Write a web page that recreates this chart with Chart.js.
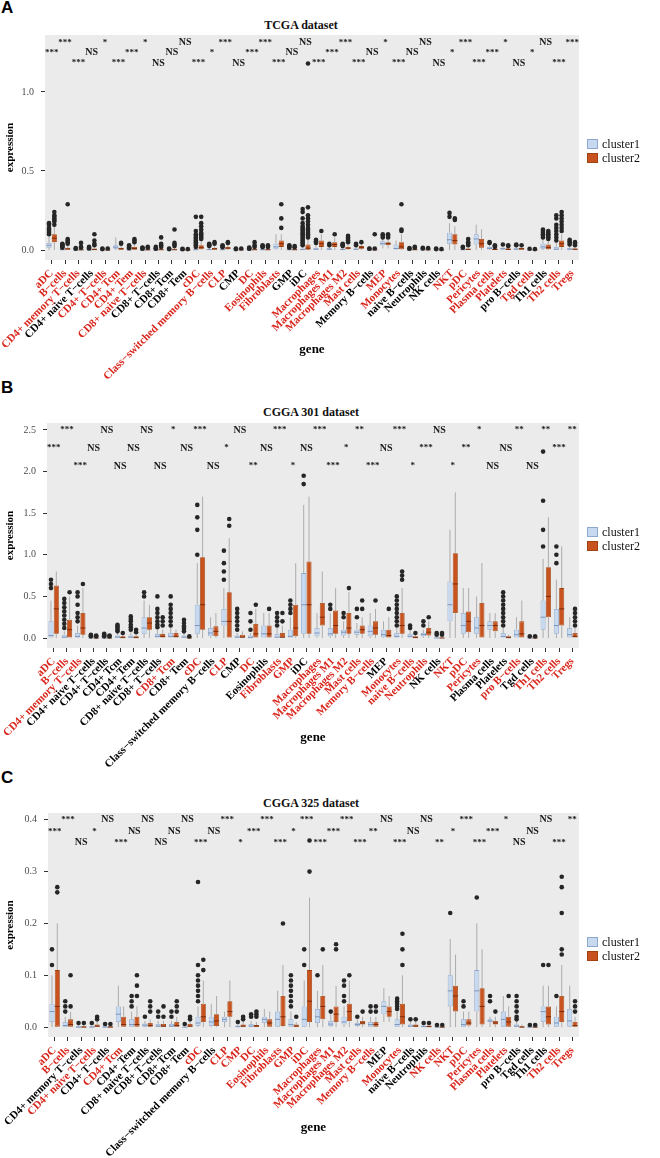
<!DOCTYPE html>
<html><head><meta charset="utf-8">
<script src="https://cdn.jsdelivr.net/npm/chart.js@4.4.1/dist/chart.umd.min.js"></script>
<style>
body{margin:0;background:#fff;width:660px;height:1158px;overflow:hidden;position:relative;font-family:'Liberation Serif',serif}
canvas{position:absolute;left:0}
.letter{position:absolute;left:1px;font:bold 17px 'Liberation Sans',Arial,sans-serif;color:#000}
.ttl{position:absolute;font:bold 12px 'Liberation Serif',serif;transform:translateX(-50%);white-space:nowrap;color:#111}
.leg{position:absolute;left:587px;font:12px 'Liberation Serif',serif;color:#111;line-height:14px;white-space:nowrap}
.key{display:inline-block;width:11px;height:10px;vertical-align:-1px;margin-right:4px;box-sizing:border-box}
</style></head><body>
<div class="letter" style="top:-2px">A</div>
<div class="ttl" style="left:301px;top:18px">TCGA dataset</div>
<div class="letter" style="top:378px">B</div>
<div class="ttl" style="left:311px;top:405px">CGGA 301 dataset</div>
<div class="letter" style="top:768px">C</div>
<div class="ttl" style="left:311px;top:796px">CGGA 325 dataset</div>
<canvas id="cA" width="660" height="386" style="top:0"></canvas>
<canvas id="cB" width="660" height="400" style="top:375px"></canvas>
<canvas id="cC" width="660" height="393" style="top:765px"></canvas>
<div class="leg" style="top:137px"><span class="key" style="background:#c7d9ef;border:1px solid #8ea7cc"></span>cluster1<br><span class="key" style="background:#c8531e;border:1px solid #a0420f"></span>cluster2</div>
<div class="leg" style="top:525px"><span class="key" style="background:#c7d9ef;border:1px solid #8ea7cc"></span>cluster1<br><span class="key" style="background:#c8531e;border:1px solid #a0420f"></span>cluster2</div>
<div class="leg" style="top:935px"><span class="key" style="background:#c7d9ef;border:1px solid #8ea7cc"></span>cluster1<br><span class="key" style="background:#c8531e;border:1px solid #a0420f"></span>cluster2</div>
<script>
const genes = ['aDC','B−cells','CD4+ memory T−cells','CD4+ naive T−cells','CD4+ T−cells','CD4+ Tcm','CD4+ Tem','CD8+ naive T−cells','CD8+ T−cells','CD8+ Tcm','CD8+ Tem','cDC','Class−switched memory B−cells','CLP','CMP','DC','Eosinophils','Fibroblasts','GMP','iDC','Macrophages','Macrophages M1','Macrophages M2','Mast cells','Memory B−cells','MEP','Monocytes','naive B−cells','Neutrophils','NK cells','NKT','pDC','Pericytes','Plasma cells','Platelets','pro B−cells','Tgd cells','Th1 cells','Th2 cells','Tregs'];

// significance labels and their row (0 = top row)
const sigA = ['***','***','***','NS','*','***','***','*','NS','NS','NS','***','*','***','NS','***','***','***','NS','NS','***','***','***','***','NS','*','***','NS','NS','NS','*','***','***','***','*','NS','*','NS','***','***'];
const rowA = [1,0,2,1,0,2,1,0,2,1,0,2,1,0,2,1,0,2,1,0,2,1,0,2,1,0,2,1,0,2,1,0,2,1,0,2,1,0,2,0];
const sigB = ['***','***','***','NS','NS','NS','NS','NS','NS','*','NS','***','NS','*','NS','**','NS','***','*','NS','***','***','*','**','***','NS','***','*','***','NS','*','**','*','NS','NS','**','NS','**','***','**'];
const rowB = [1,0,2,1,0,2,1,0,2,0,1,0,2,1,0,2,1,0,2,1,0,2,1,0,2,1,0,2,1,0,2,1,0,2,1,0,2,0,1,0];
const sigC = ['***','***','NS','*','NS','***','NS','NS','NS','NS','NS','***','NS','***','*','***','***','***','*','***','***','***','***','***','**','NS','***','NS','NS','**','*','***','***','***','*','NS','NS','NS','***','**'];
const rowC = [1,0,2,1,0,2,1,0,2,1,0,2,1,0,2,1,0,2,1,0,2,1,0,2,1,0,2,1,0,2,1,0,2,1,0,2,1,0,2,0];
const sigLevelsA = [1.31,1.247,1.183];
const sigLevelsB = [2.5,2.284,2.067];
const sigLevelsC = [0.4,0.377,0.356];

// box stats per gene: [lower whisker, Q1, median, Q3, upper whisker]
const tcga1 = [[0,0.015,0.03,0.045,0.09],[0,0,0.002,0.005,0.01],[0,0,0,0.002,0.004],[0,0,0.001,0.003,0.006],[0,0,0,0.001,0.003],[0,0.008,0.018,0.03,0.08],[0,0,0.001,0.003,0.008],[0,0,0,0.002,0.004],[0,0,0,0.002,0.004],[0,0,0,0.001,0.003],[0,0,0,0.001,0.002],[0,0,0.002,0.006,0.015],[0,0,0.003,0.008,0.018],[0,0,0.002,0.005,0.012],[0,0,0,0.001,0.003],[0,0,0,0.002,0.004],[0,0,0.002,0.005,0.012],[0,0.005,0.02,0.04,0.1],[0,0,0.002,0.005,0.01],[0,0,0.003,0.01,0.025],[0,0,0.005,0.015,0.035],[0,0.002,0.006,0.012,0.025],[0,0,0.003,0.008,0.018],[0,0.002,0.005,0.01,0.02],[0,0,0,0.002,0.004],[0.01,0.03,0.04,0.055,0.07],[0,0,0.01,0.035,0.06],[0,0,0,0.002,0.004],[0,0,0.001,0.003,0.006],[0,0,0,0.001,0.003],[0,0.04,0.065,0.11,0.17],[0,0,0.002,0.005,0.01],[0,0.035,0.07,0.1,0.16],[0,0.005,0.01,0.02,0.035],[0,0.003,0.008,0.015,0.03],[0,0,0.005,0.012,0.025],[0,0,0,0.002,0.004],[0,0.008,0.02,0.04,0.07],[0,0,0.005,0.02,0.045],[0,0.002,0.006,0.012,0.025]];
const tcga2 = [[0,0.05,0.075,0.1,0.15],[0,0,0.006,0.015,0.03],[0,0,0.001,0.004,0.008],[0,0,0.003,0.01,0.02],[0,0,0,0.002,0.004],[0,0.002,0.008,0.015,0.03],[0,0.002,0.01,0.02,0.04],[0,0,0.001,0.004,0.01],[0,0,0.002,0.006,0.015],[0,0,0.002,0.008,0.018],[0,0,0,0.001,0.003],[0,0.005,0.015,0.03,0.06],[0,0.002,0.008,0.015,0.03],[0,0.005,0.012,0.02,0.035],[0,0,0.001,0.003,0.006],[0,0,0.002,0.006,0.014],[0,0,0.002,0.006,0.015],[0,0.02,0.04,0.06,0.1],[0,0,0.002,0.006,0.012],[0,0.002,0.012,0.035,0.07],[0,0.02,0.04,0.06,0.1],[0,0.02,0.035,0.05,0.08],[0,0.005,0.012,0.02,0.04],[0,0.008,0.015,0.025,0.04],[0,0,0.001,0.003,0.006],[0.01,0.03,0.04,0.05,0.07],[0,0.005,0.02,0.05,0.1],[0,0,0.002,0.005,0.01],[0,0,0.001,0.004,0.008],[0,0,0,0.002,0.004],[0,0.035,0.06,0.1,0.15],[0,0,0.004,0.01,0.02],[0,0.015,0.04,0.07,0.13],[0,0.001,0.004,0.008,0.015],[0,0.001,0.005,0.01,0.02],[0,0.002,0.008,0.015,0.025],[0,0,0,0.002,0.004],[0,0.005,0.015,0.035,0.06],[0,0.02,0.04,0.06,0.1],[0,0.002,0.005,0.01,0.02]];
const tcgaOut1 = [[0.1,0.11,0.12,0.13,0.14,0.16,0.17],[0.015,0.02,0.025,0.03,0.035,0.04],[0.008,0.012],[0.01,0.015,0.02],[0.006,0.01],[],[0.012,0.018,0.025,0.03],[0.008,0.012,0.016],[0.008,0.012,0.02],[0.006,0.01],[0.005,0.008],[0.02,0.03,0.04,0.05,0.06,0.07,0.08,0.09,0.1,0.12,0.21],[0.025,0.03,0.035,0.04],[0.018,0.025,0.03],[0.006,0.01],[0.008,0.012,0.015],[0.018,0.025,0.03],[],[0.015,0.02,0.025,0.03],[0.03,0.04,0.05,0.06,0.07,0.08,0.09,0.1,0.11,0.12,0.13,0.14,0.15,0.17,0.2,0.24,0.26],[0.045,0.055,0.065],[0.03,0.04],[0.025,0.03,0.035,0.04],[0.03,0.04],[0.008,0.01],[0.08,0.09,0.1],[],[0.008,0.012],[0.01,0.014],[0.006,0.009],[0.21,0.235],[0.015,0.02],[],[0.045,0.05],[0.035],[0.03,0.035],[0.008],[0.08,0.09,0.1,0.11,0.12,0.13],[0.06,0.08,0.1,0.12,0.14,0.16,0.2,0.22],[0.035,0.045,0.055,0.065]];
const tcgaOut2 = [[0.16,0.18,0.19,0.2,0.21,0.22,0.24],[0.04,0.05,0.06,0.07,0.29],[0.015,0.02,0.045],[0.03,0.04,0.06,0.1],[0.01],[0.04,0.045],[0.05,0.06,0.07],[0.015,0.02],[0.02,0.03,0.04,0.08],[0.025,0.035,0.045,0.13],[0.006],[0.07,0.08,0.09,0.1,0.11,0.13,0.15,0.17,0.21],[0.04,0.05],[0.045,0.05],[0.01],[0.02,0.03,0.05],[0.02,0.03],[0.14,0.2,0.29],[0.018,0.025],[0.08,0.09,0.1,0.11,0.12,0.13,0.14,0.16,0.18,0.2,0.22,0.27,1.18],[0.12],[0.1],[0.05,0.06,0.07,0.08,0.09],[0.05],[0.01,0.1],[0.08,0.09,0.1],[0.12,0.13,0.29],[0.015,0.02],[0.012],[0.006],[0.19,0.2],[0.03,0.04,0.05,0.07],[],[0.02,0.025,0.03],[0.025,0.03],[0.03],[0.006],[0.07,0.08,0.09,0.1,0.11,0.12],[0.12,0.14,0.16,0.18,0.2,0.22,0.24],[0.03,0.04,0.05]];

const c301a = [[0,0,0.03,0.2,0.45],[0,0,0.01,0.04,0.08],[0,0.005,0.02,0.06,0.15],[0,0,0,0.005,0.01],[0,0,0,0.005,0.01],[0,0,0.01,0.03,0.06],[0,0,0.01,0.03,0.07],[0,0.05,0.12,0.25,0.45],[0,0,0.02,0.05,0.1],[0,0,0.02,0.06,0.12],[0,0,0.01,0.03,0.06],[0,0.05,0.15,0.4,0.9],[0,0.02,0.06,0.12,0.25],[0,0.15,0.2,0.35,0.6],[0,0,0.01,0.03,0.06],[0,0,0.005,0.03,0.06],[0,0,0.05,0.15,0.3],[0,0,0.01,0.05,0.12],[0,0,0.02,0.1,0.25],[0,0.05,0.4,0.78,1.6],[0,0.02,0.06,0.12,0.3],[0,0.02,0.05,0.12,0.3],[0,0.03,0.07,0.1,0.2],[0,0.04,0.07,0.1,0.18],[0,0.02,0.08,0.15,0.3],[0,0.01,0.04,0.1,0.2],[0,0,0.02,0.06,0.12],[0,0,0.02,0.05,0.1],[0,0.02,0.04,0.06,0.1],[0,0,0,0.01,0.02],[0,0.2,0.4,0.68,1.3],[0,0.05,0.15,0.3,0.6],[0,0.05,0.12,0.25,0.5],[0,0.1,0.15,0.2,0.3],[0,0,0.02,0.06,0.12],[0,0,0.04,0.1,0.25],[0,0,0,0.005,0.01],[0,0.1,0.25,0.45,0.95],[0,0.05,0.15,0.35,0.7],[0,0,0.04,0.12,0.25]];
const c301b = [[0,0.05,0.35,0.63,0.8],[0,0,0.1,0.22,0.5],[0,0.04,0.12,0.3,0.6],[0,0,0,0.003,0.008],[0,0,0,0.003,0.008],[0,0,0.005,0.02,0.04],[0,0,0.005,0.02,0.04],[0,0.1,0.18,0.25,0.4],[0,0,0.02,0.05,0.1],[0,0,0.02,0.06,0.1],[0,0,0,0.005,0.01],[0,0.1,0.4,0.97,1.7],[0,0.02,0.08,0.14,0.3],[0,0,0.2,0.55,1.2],[0,0,0.01,0.04,0.08],[0,0,0.05,0.17,0.35],[0,0,0.05,0.15,0.3],[0,0,0.01,0.06,0.15],[0,0.02,0.12,0.4,0.9],[0,0.05,0.4,0.92,1.7],[0,0.15,0.25,0.42,0.8],[0,0.05,0.15,0.33,0.6],[0,0.05,0.12,0.3,0.55],[0,0.05,0.1,0.15,0.25],[0,0.04,0.12,0.2,0.35],[0,0,0.03,0.1,0.25],[0,0.05,0.15,0.3,0.6],[0,0,0.005,0.02,0.04],[0,0.03,0.07,0.12,0.2],[0,0,0,0.01,0.02],[0,0.3,0.65,1.02,1.75],[0,0.07,0.2,0.32,0.6],[0,0,0.15,0.42,0.9],[0,0.08,0.15,0.2,0.3],[0,0,0.005,0.02,0.04],[0,0,0.05,0.2,0.45],[0,0,0,0.005,0.01],[0,0.25,0.5,0.85,1.45],[0,0.15,0.35,0.6,1.1],[0,0,0.02,0.06,0.12]];
const c301Out1 = [[0.6,0.65,0.7],[0.12,0.17,0.22,0.27,0.32,0.37,0.42,0.47],[0.2,0.25,0.3,0.4,0.5,0.55],[0.02,0.03,0.04],[0.02,0.03,0.04,0.05],[0.08,0.1,0.12,0.14,0.16],[0.1,0.13,0.16,0.2,0.23,0.26],[0.5,0.55],[0.13,0.16,0.2,0.25,0.3,0.35,0.5],[0.15,0.2,0.25,0.3,0.35,0.4,0.5],[0.08,0.11,0.14,0.18,0.22],[1.0,1.3,1.45,1.6],[],[0.7,0.8,0.9,1.05],[0.1,0.15,0.2,0.25,0.3,0.35],[0.1,0.2,0.3],[],[0.15,0.2,0.25,0.3],[0.3,0.35,0.4,0.45],[1.85,1.95],[],[0.35,0.4],[0.25,0.3],[0.25,0.35],[],[],[0.15,0.2,0.25,0.3,0.35,0.4,0.45,0.5],[0.12,0.15],[0.15,0.2],[0.04,0.06],[],[],[],[],[0.15,0.2,0.25,0.3,0.35,0.4,0.45,0.5,0.55],[],[0.02],[1.1,1.3,1.65,2.24],[0.9,1.0,1.1],[]];
const c301Out2 = [[],[0.55],[0.65],[0.02,0.03],[0.02,0.03],[0.06],[0.07,0.1],[],[0.15,0.2,0.25],[],[0.02],[],[],[1.35,1.43],[],[0.4],[0.35],[0.2,0.3],[],[],[],[],[0.6],[0.35,0.45],[0.45],[0.35],[0.7,0.75,0.8],[0.06],[0.25],[0.04,0.06],[],[],[],[],[],[],[0.02],[],[],[0.15,0.2,0.25,0.3,0.35]];

const c325a = [[0,0.01,0.03,0.045,0.1],[0,0,0.003,0.01,0.02],[0,0,0,0.002,0.004],[0,0,0,0.002,0.004],[0,0,0,0.002,0.004],[0,0.01,0.025,0.04,0.08],[0,0,0.005,0.015,0.03],[0,0.001,0.004,0.007,0.012],[0,0,0.002,0.006,0.012],[0,0,0.002,0.006,0.012],[0,0,0,0.001,0.003],[0,0.002,0.008,0.02,0.04],[0,0.002,0.01,0.02,0.045],[0,0.01,0.015,0.02,0.03],[0,0,0.001,0.003,0.006],[0,0,0.002,0.006,0.012],[0,0.008,0.015,0.02,0.035],[0,0,0.015,0.03,0.07],[0,0,0.005,0.015,0.03],[0,0,0.015,0.04,0.09],[0,0.008,0.02,0.035,0.07],[0,0.002,0.006,0.012,0.025],[0,0.005,0.01,0.02,0.04],[0,0.002,0.005,0.008,0.015],[0,0,0.005,0.01,0.02],[0.01,0.025,0.04,0.05,0.075],[0,0,0.005,0.015,0.03],[0,0,0.002,0.005,0.01],[0,0,0.001,0.003,0.006],[0,0,0,0.001,0.002],[0,0.04,0.07,0.1,0.17],[0,0,0.005,0.015,0.03],[0,0.03,0.07,0.11,0.2],[0,0.01,0.012,0.015,0.02],[0,0,0.015,0.03,0.06],[0,0,0.002,0.005,0.01],[0,0,0,0.001,0.002],[0,0.01,0.03,0.04,0.08],[0,0,0.008,0.02,0.04],[0,0,0.012,0.035,0.08]];
const c325b = [[0,0,0.04,0.11,0.2],[0,0,0.005,0.015,0.03],[0,0,0,0.002,0.004],[0,0,0.002,0.005,0.01],[0,0,0,0.002,0.004],[0,0,0.005,0.02,0.04],[0,0,0.005,0.02,0.04],[0,0,0.003,0.008,0.015],[0,0,0.002,0.006,0.012],[0,0,0.003,0.01,0.02],[0,0,0.002,0.006,0.01],[0,0.01,0.02,0.045,0.09],[0,0.002,0.012,0.025,0.06],[0,0.02,0.03,0.05,0.09],[0,0,0.002,0.005,0.01],[0,0,0.002,0.004,0.01],[0,0,0.008,0.015,0.03],[0,0.002,0.02,0.06,0.12],[0,0,0.002,0.005,0.01],[0,0.01,0.05,0.11,0.25],[0,0.015,0.04,0.06,0.12],[0,0.01,0.025,0.04,0.08],[0,0.012,0.03,0.045,0.09],[0,0.005,0.008,0.012,0.02],[0,0,0.005,0.01,0.02],[0.01,0.02,0.03,0.04,0.06],[0,0.005,0.02,0.045,0.1],[0,0,0.002,0.005,0.01],[0,0,0.001,0.003,0.006],[0,0,0,0.001,0.002],[0,0.03,0.06,0.08,0.14],[0,0.003,0.008,0.015,0.03],[0,0.005,0.04,0.075,0.15],[0,0.005,0.008,0.012,0.02],[0,0,0.01,0.02,0.04],[0,0,0,0.002,0.005],[0,0,0,0.001,0.002],[0,0.005,0.02,0.04,0.08],[0,0.01,0.03,0.06,0.12],[0,0,0.003,0.01,0.02]];
const c325Out1 = [[0.12,0.15],[0.03,0.04,0.05],[0.008],[0.008],[0.006],[],[0.04,0.05,0.06],[0.02],[0.02,0.03],[0.02,0.03],[0.006],[0.05,0.06,0.07,0.08,0.09,0.1,0.12,0.28],[],[],[0.01],[0.02,0.025],[],[],[0.04,0.05,0.06,0.07,0.08,0.09,0.1],[0.12,0.15],[0.1],[0.03],[0.05,0.06,0.08,0.09],[0.02],[0.03,0.04],[],[0.035,0.04,0.045,0.05,0.055],[0.015],[0.008],[0.004],[0.22],[0.04,0.05],[0.25],[0.05,0.06],[],[0.015,0.02,0.03,0.04,0.05,0.06],[0.004],[0.12],[0.06],[]];
const c325Out2 = [[0.26,0.27],[0.04,0.1],[0.008],[0.015,0.02],[0.006],[],[0.06,0.08,0.1],[0.03,0.04,0.05],[0.02,0.04],[0.03,0.04,0.05],[0.015,0.02],[0.11,0.13],[],[],[0.015,0.02],[0.02,0.025,0.03],[],[0.2],[0.02],[0.3,0.36],[0.15],[0.15,0.16],[0.1],[0.03],[0.03,0.04],[],[0.12,0.15,0.18],[0.015],[0.008],[0.004],[],[],[],[0.03],[0.06],[],[0.004],[0.12],[0.14,0.15,0.22,0.27,0.29],[0.03,0.04,0.05]];

const RED = '#d9261c';
const FILL = ['#c7d9ef','#c8531e'], EDGE = ['#8ea7cc','#a0420f'], MED = ['#7d95bb','#7a2a08'], WH = ['#a5a5a5','#a5a5a5'];

function panel(id, o){
  const stats=[o.s1,o.s2], outs=[o.o1,o.o2];
  const plug = {
    id:'bx'+id,
    beforeDraw(ch){const a=ch.chartArea,c=ch.ctx;c.save();c.fillStyle='#ebebeb';c.fillRect(a.left,a.top,a.right-a.left,a.bottom-a.top);c.restore();},
    beforeDatasetsDraw(ch){
      const c=ch.ctx,y=ch.scales.y;c.save();c.lineWidth=0.9;
      [0,1].forEach(d=>{c.strokeStyle=WH[d];ch.getDatasetMeta(d).data.forEach((el,i)=>{const s=stats[d][i];c.beginPath();c.moveTo(el.x,y.getPixelForValue(s[0]));c.lineTo(el.x,y.getPixelForValue(s[1]));c.moveTo(el.x,y.getPixelForValue(s[3]));c.lineTo(el.x,y.getPixelForValue(s[4]));c.stroke();});});
      c.restore();
    },
    afterDatasetsDraw(ch){
      const c=ch.ctx,y=ch.scales.y;c.save();
      [0,1].forEach(d=>{ch.getDatasetMeta(d).data.forEach((el,i)=>{const s=stats[d][i];const w=el.width/2;c.strokeStyle=MED[d];c.lineWidth=1;c.beginPath();const py=y.getPixelForValue(s[2]);c.moveTo(el.x-w,py);c.lineTo(el.x+w,py);c.stroke();
        c.fillStyle='#262626';outs[d][i].forEach(v=>{c.beginPath();c.arc(el.x,y.getPixelForValue(v),2.3,0,Math.PI*2);c.fill();});});});
      c.restore();
    },
    afterDraw(ch){
      const c=ch.ctx,x=ch.scales.x,y=ch.scales.y;c.save();c.fillStyle='#1a1a1a';c.textAlign='center';c.textBaseline='middle';
      o.sig.forEach((t,i)=>{c.font=(t==='NS'?'bold 10px':'bold 9px')+" 'Liberation Serif'";c.fillText(t,x.getPixelForValue(i),y.getPixelForValue(o.levels[o.rows[i]]));});
      c.restore();
    }
  };
  new Chart(document.getElementById(id),{
    type:'bar',
    data:{labels:genes,datasets:[0,1].map(d=>({label:'cluster'+(d+1),data:stats[d].map(s=>[s[1],s[3]]),backgroundColor:FILL[d],borderColor:EDGE[d],borderWidth:0.8,borderSkipped:false,categoryPercentage:0.8,barPercentage:0.95}))},
    options:{responsive:false,animation:false,devicePixelRatio:1,
      layout:{padding:{top:o.top,right:81,left:0,bottom:0}},
      plugins:{legend:{display:false},tooltip:{enabled:false},title:{display:false}},
      scales:{
        x:{grid:{offset:false,drawOnChartArea:false,tickLength:4,color:'#333'},border:{display:false},
           ticks:{autoSkip:false,minRotation:45,maxRotation:45,padding:3,font:{family:'Liberation Serif',weight:'bold',size:11},color:c=>o.sig[c.index]==='NS'?'#000':RED},
           title:{display:true,text:'gene',font:{family:'Liberation Serif',weight:'bold',size:13},color:'#000',padding:{top:0,bottom:o.gpad}},
           afterFit:s=>{s.height=o.xh;}},
        y:{min:o.ymin,max:o.ymax,grid:{drawOnChartArea:false,tickLength:4,color:'#333'},border:{display:false},
           ticks:{stepSize:o.step,includeBounds:false,callback:v=>Number(v).toFixed(1),font:{family:'Liberation Serif',size:10},color:'#4d4d4d',padding:7},
           title:{display:true,text:'expression',font:{family:'Liberation Serif',weight:'bold',size:11},color:'#000',padding:{top:4,bottom:0}},
           afterFit:s=>{s.width=o.yw;}}
      }},
    plugins:[plug]
  });
}
panel('cA',{s1:tcga1,s2:tcga2,o1:tcgaOut1,o2:tcgaOut2,sig:sigA,rows:rowA,levels:sigLevelsA,ymin:-0.063,ymax:1.36,step:0.5,top:35,yw:45,xh:126,gpad:29});
panel('cB',{s1:c301a,s2:c301b,o1:c301Out1,o2:c301Out2,sig:sigB,rows:rowB,levels:sigLevelsB,ymin:-0.12,ymax:2.584,step:0.5,top:48,yw:47,xh:127,gpad:30});
panel('cC',{s1:c325a,s2:c325b,o1:c325Out1,o2:c325Out2,sig:sigC,rows:rowC,levels:sigLevelsC,ymin:-0.019,ymax:0.413,step:0.1,top:48,yw:48,xh:121,gpad:23});
</script>
</body></html>
